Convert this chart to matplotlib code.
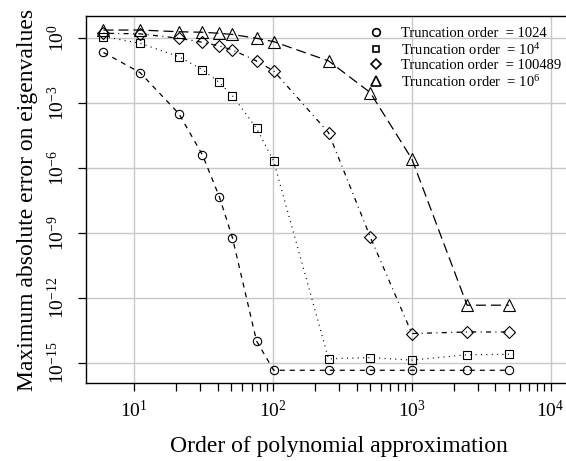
import numpy as np
import matplotlib
matplotlib.use("Agg")
import matplotlib.pyplot as plt
from matplotlib.ticker import FixedLocator, NullFormatter

plt.rcParams['font.family'] = ['Liberation Serif', 'DejaVu Serif']
plt.rcParams['mathtext.fontset'] = 'custom'
plt.rcParams['mathtext.rm'] = 'Liberation Serif'
plt.rcParams['mathtext.it'] = 'Liberation Serif:italic'

order = [6, 11, 21, 31, 41, 51, 76, 101, 251, 501, 1001, 2501, 5001]

err_1024 = [2.2e-1, 2.6e-2, 3.2e-4, 4.0e-6, 4.7e-8, 5.9e-10, 1.0e-14,
            4.4e-16, 4.4e-16, 4.4e-16, 4.4e-16, 4.4e-16, 4.4e-16]
err_1e4 = [1.2, 5.9e-1, 1.4e-1, 3.5e-2, 9.0e-3, 2.2e-3, 6.8e-5,
           2.1e-6, 1.5e-15, 1.7e-15, 1.3e-15, 2.3e-15, 2.4e-15]
err_100489 = [1.7, 1.6, 1.0, 6.5e-1, 4.4e-1, 2.9e-1, 8.9e-2,
              3.1e-2, 4.3e-5, 6.6e-10, 2.2e-14, 2.6e-14, 2.6e-14]
err_1e6 = [2.4, 2.4, 2.0, 1.9, 1.7, 1.5, 1.0,
           0.7, 9.0e-2, 3.1e-3, 2.6e-6, 4.5e-13, 4.5e-13]

labels = ["Truncation order  = 1024",
          r"Truncation order  = $10^4$",
          "Truncation order  = 100489",
          r"Truncation order  = $10^6$"]

fig = plt.figure(figsize=(5.66, 4.61), dpi=100)
ax = fig.add_axes([0.1514, 0.1685, 0.895, 0.7968])

ax.grid(True, which='major', color='#c8c8c8', linewidth=1.0)
ax.set_axisbelow(True)

style = dict(color='black', mfc='none', mec='black', mew=0.8, lw=0.9)
ax.plot(order, err_1024, marker='o', ms=6, linestyle=(0, (4, 4)), **style)
ax.plot(order, err_1e4, marker='s', ms=5.5, linestyle=(0, (0.8, 3.5)), **style)
ax.plot(order, err_100489, marker='D', ms=6.5, linestyle=(0, (0.8, 3.5, 4, 3.5)), **style)
ax.plot(order, err_1e6, marker='^', ms=9, linestyle=(0, (8, 4)), **style)

ax.set_xscale('log')
ax.set_yscale('log')
ax.set_xlim(10 ** 0.65, 10 ** 4.3)
ax.set_ylim(10 ** -15.96, 10 ** 1.03)

ax.xaxis.set_major_locator(FixedLocator([10, 100, 1000, 10000]))
minor = [m * 10 ** k for k in range(1, 4) for m in range(2, 10)]
ax.xaxis.set_minor_locator(FixedLocator(minor))
ax.xaxis.set_minor_formatter(NullFormatter())
ax.set_xticklabels([r"$10^{1}$", r"$10^{2}$", r"$10^{3}$", r"$10^{4}$"])

yt = [10.0 ** k for k in range(0, -16, -3)]
ax.yaxis.set_major_locator(FixedLocator(yt))
ax.yaxis.set_minor_locator(FixedLocator([]))
ax.set_yticklabels([r"$10^{%d}$" % k for k in range(0, -16, -3)],
                   rotation=90, va='center')

ax.tick_params(axis='both', which='both', direction='out', length=6, width=0.9,
               labelsize=14, colors='black')
ax.tick_params(axis='x', pad=6)
ax.tick_params(axis='y', pad=7)

for s in ['left', 'bottom', 'top']:
    ax.spines[s].set_linewidth(1.0)
ax.spines['right'].set_visible(False)

ax.set_xlabel("Order of polynomial approximation", fontsize=17, labelpad=11)
ax.set_ylabel("Maximum absolute error on eigenvalues", fontsize=17, labelpad=6)

handles = [
    plt.Line2D([], [], marker='o', ms=5.5, ls='none', mfc='none', mec='black', mew=1.2),
    plt.Line2D([], [], marker='s', ms=5, ls='none', mfc='none', mec='black', mew=1.2),
    plt.Line2D([], [], marker='D', ms=5, ls='none', mfc='none', mec='black', mew=1.2),
    plt.Line2D([], [], marker='^', ms=6.5, ls='none', mfc='none', mec='black', mew=1.2),
]
ax.legend(handles, labels, loc='upper left', bbox_to_anchor=(369 / 566, 1 - 27 / 461),
          bbox_transform=fig.transFigure,
          frameon=False, fontsize=10.5, handlelength=1.0, handletextpad=1.2,
          labelspacing=0.1, borderaxespad=0, borderpad=0)

fig.savefig("out.png", dpi=100)
